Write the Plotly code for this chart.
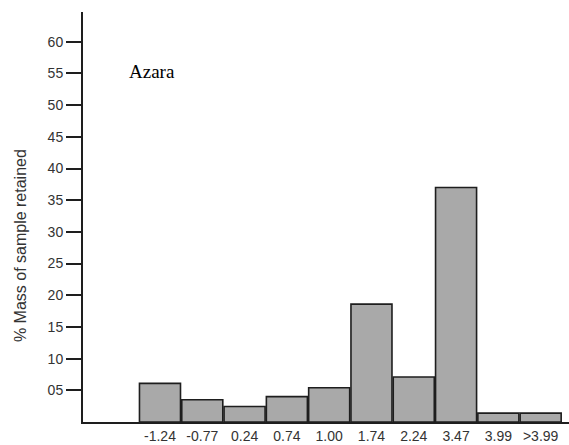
import plotly.graph_objects as go

categories = ["-1.24", "-0.77", "0.24", "0.74", "1.00", "1.74", "2.24", "3.47", "3.99", ">3.99"]
values = [6.1, 3.5, 2.45, 4.0, 5.4, 18.6, 7.1, 37.0, 1.4, 1.4]
y_ticks = [5, 10, 15, 20, 25, 30, 35, 40, 45, 50, 55, 60]
y_tick_labels = ["05", "10", "15", "20", "25", "30", "35", "40", "45", "50", "55", "60"]

fig = go.Figure()
fig.add_trace(go.Bar(
    x=list(range(len(categories))),
    y=values,
    marker=dict(color="#a9a9a9", line=dict(color="#1e1e1e", width=1.6)),
    width=0.97,
))

fig.update_layout(
    width=569, height=445,
    margin=dict(l=83, r=0, t=12, b=23),
    paper_bgcolor="white", plot_bgcolor="white",
    showlegend=False,
    font=dict(family="Liberation Sans, Arial, sans-serif", color="#333"),
    xaxis=dict(
        range=[-1.82, 9.67],
        tickmode="array",
        tickvals=list(range(len(categories))),
        ticktext=categories,
        showline=True, linecolor="#1e1e1e", linewidth=2,
        ticks="", showgrid=False, zeroline=False,
        tickfont=dict(size=14, color="#333"),
    ),
    yaxis=dict(
        range=[0, 64.7],
        tickmode="array",
        tickvals=y_ticks,
        ticktext=y_tick_labels,
        showline=True, linecolor="#1e1e1e", linewidth=2,
        ticks="outside", ticklen=15, tickwidth=2, tickcolor="#1e1e1e",
        showgrid=False, zeroline=False,
        tickfont=dict(size=14, color="#333"),
    ),
    annotations=[
        dict(text="% Mass of sample retained", textangle=-90,
             xref="paper", yref="paper", x=0, y=0.429, xshift=-63,
             xanchor="center", yanchor="middle", showarrow=False,
             font=dict(size=16, color="#333", family="Liberation Sans, Arial, sans-serif")),
        dict(text="Azara", xref="paper", yref="paper", x=0.0905, y=0.854,
             xanchor="left", yanchor="middle", showarrow=False,
             font=dict(size=19, color="#000", family="Liberation Serif, Times New Roman, serif")),
    ],
)

fig.write_html("out.html", config={"displayModeBar": False},
               post_script="document.body.style.margin='0';document.body.style.overflow='hidden';")
